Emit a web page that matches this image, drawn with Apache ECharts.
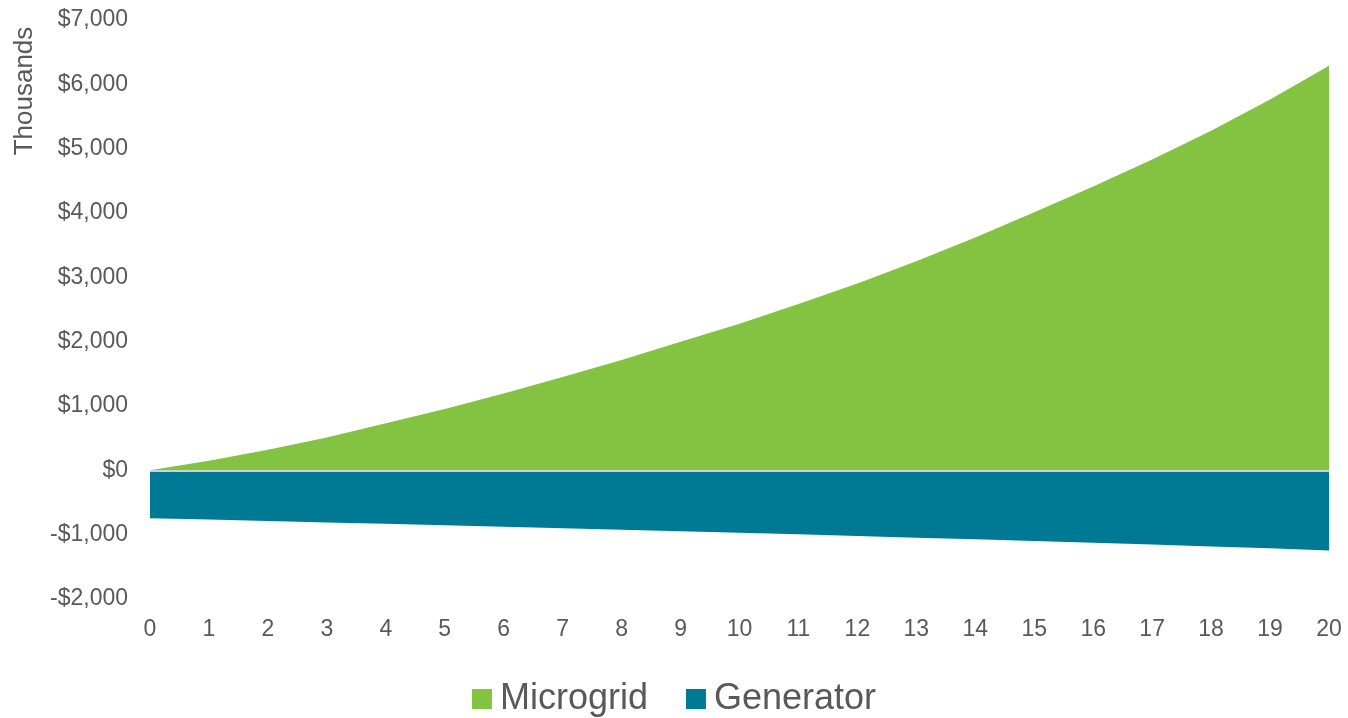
<!DOCTYPE html>
<html>
<head>
<meta charset="utf-8">
<script src="https://cdn.jsdelivr.net/npm/echarts@6/dist/echarts.min.js"></script>
<style>html,body{margin:0;padding:0;background:#fff}#c{width:1348px;height:718px}</style>
</head>
<body>
<div id="c"></div>
<script>
const years = ['0','1','2','3','4','5','6','7','8','9','10','11','12','13','14','15','16','17','18','19','20'];
const microgrid = [0, 150, 320, 510, 730, 955, 1195, 1450, 1715, 2000, 2280, 2585, 2905, 3250, 3620, 4010, 4410, 4830, 5280, 5765, 6290];
const generator = [-745, -766, -787, -809, -831, -853, -876, -899, -922, -946, -970, -995, -1020, -1046, -1072, -1099, -1126, -1154, -1182, -1211, -1245];
const yTicks = {min: -2000, max: 7000, interval: 1000};
const yName = 'Thousands';

const font = 'Liberation Sans, Arial, sans-serif';
const txt = '#595959';
const chart = echarts.init(document.getElementById('c'));
function money(v){ const a = Math.abs(v).toLocaleString('en-US'); return (v < 0 ? '-' : '') + '$' + a; }
chart.setOption({
  animation: false,
  textStyle: {fontFamily: font},
  grid: {left: 150, right: 19, top: 20, bottom: 119, containLabel: false},
  graphic: [{
    type: 'text', x: 25, y: 91, rotation: Math.PI/2, origin: [0,0],
    style: {text: yName, fill: txt, font: '26px ' + font, align: 'center', verticalAlign: 'middle'}
  }],
  legend: {
    top: 676, left: 'center', itemWidth: 20, itemHeight: 20, itemGap: 38, icon: 'rect',
    textStyle: {fontSize: 36, color: txt, fontFamily: font, padding: [0, 0, 0, 3]},
    data: ['Microgrid', 'Generator']
  },
  xAxis: {
    type: 'category', data: years, boundaryGap: false,
    axisLine: {show: false}, axisTick: {show: false}, splitLine: {show: false},
    axisLabel: {color: txt, fontSize: 23, margin: 19, fontFamily: font, interval: 0}
  },
  yAxis: {
    type: 'value', min: yTicks.min, max: yTicks.max, interval: yTicks.interval,
    axisLine: {show: false}, axisTick: {show: false}, splitLine: {show: false},
    axisLabel: {color: txt, fontSize: 23, margin: 22, fontFamily: font, formatter: money}
  },
  series: [
    {
      name: 'Microgrid', type: 'line', data: microgrid, smooth: false, symbol: 'none',
      itemStyle: {color: '#83C341'}, lineStyle: {width: 0, color: '#83C341'},
      areaStyle: {color: '#83C341', opacity: 1, origin: 0}
    },
    {
      name: 'Generator', type: 'line', data: generator, smooth: false, symbol: 'none',
      itemStyle: {color: '#007995'}, lineStyle: {width: 0, color: '#007995'},
      areaStyle: {color: '#007995', opacity: 1, origin: 0},
      markLine: {
        silent: true, symbol: 'none', label: {show: false}, z: 10,
        lineStyle: {color: '#D0D0D0', width: 2, type: 'solid'},
        data: [{yAxis: 0}]
      }
    }
  ]
});
</script>
</body>
</html>
